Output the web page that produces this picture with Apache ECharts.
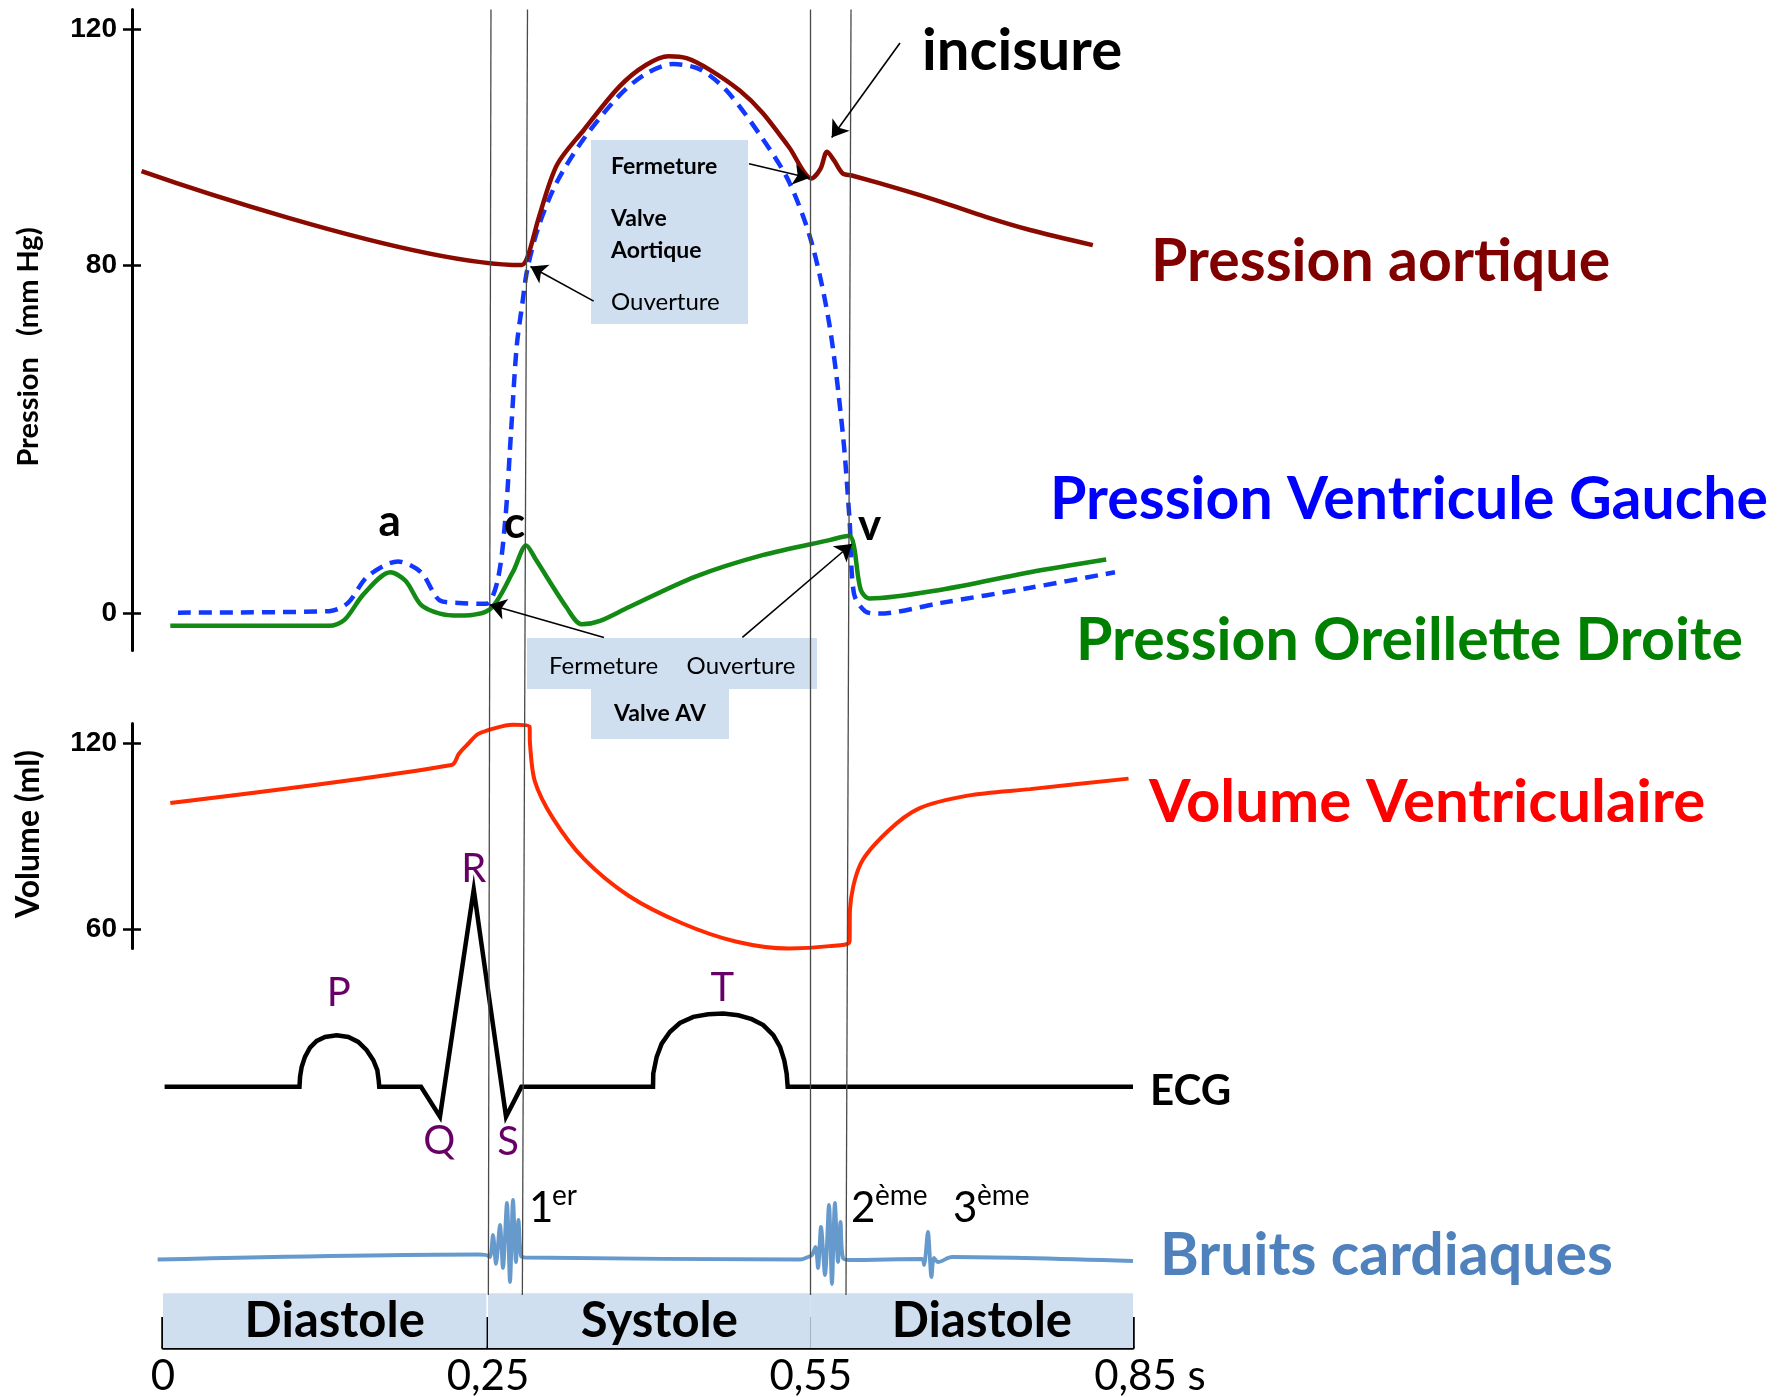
<!DOCTYPE html>
<html>
<head>
<meta charset="utf-8">
<script src="https://cdn.jsdelivr.net/npm/echarts@6/dist/echarts.min.js"></script>
<style>
  html, body { margin: 0; padding: 0; background: #fff }
  #chart { width: 1785px; height: 1397px }
</style>
</head>
<body>
<div id="chart"></div>
<script>
// time values are on the drawn time scale (0 .. 0.85 s, three equal phase widths)
const xTickValues = [0, 0.2848, 0.5676, 0.85]
const xTickLabels = ['0', '0,25', '0,55', '0,85 s']

const pressureTicks = [0, 71.55, 120]
const pressureTickLabels = ['0', '80', '120']
const volumeTicks = [60, 120]

// [t, mmHg on the drawn scale]
const aorticPressure = [
  [-0.0188, 90.9], [0.3142, 71.6], [0.3198, 73.5], [0.3295, 81.5], [0.3453, 92.2], [0.3689, 99.4],
  [0.4001, 108.3], [0.4232, 112.7], [0.4431, 114.5], [0.4588, 114.1], [0.4785, 111.8], [0.5056, 107.4],
  [0.5253, 102.9], [0.5486, 95.8], [0.5684, 89.4], [0.5762, 91.4], [0.5819, 94.9], [0.5880, 93.1],
  [0.5957, 90.4], [0.6036, 90.0], [0.6502, 86.9], [0.6818, 84.6], [0.7209, 81.5], [0.7598, 78.8], [0.8148, 75.7]
]
const lvPressure = [
  [0.0131, 0.2], [0.1455, 0.5], [0.1621, 2.2], [0.1791, 7.6], [0.2059, 10.7], [0.2261, 8.5], [0.2427, 2.7],
  [0.2594, 2.2], [0.2830, 2.0], [0.2931, 6.7], [0.2999, 19.2], [0.3049, 37.0], [0.3099, 54.8], [0.3149, 63.7],
  [0.3193, 70.8], [0.3295, 79.8], [0.3453, 88.7], [0.3689, 97.6], [0.4001, 106.5], [0.4232, 110.9],
  [0.4469, 112.9], [0.4706, 111.8], [0.4940, 107.4], [0.5253, 97.6], [0.5486, 88.7], [0.5684, 76.2],
  [0.5840, 59.3], [0.5957, 37.0], [0.6016, 19.3], [0.6055, 4.1], [0.6152, 0.5], [0.6270, 0],
  [0.6818, 2.2], [0.7598, 5.3], [0.8342, 8.5]
]
const atrialPressure = [
  [0.0064, -2.5], [0.1455, -2.5], [0.1590, -1.3], [0.1758, 4.0], [0.1993, 8.5], [0.2127, 6.7], [0.2261, 1.8],
  [0.2427, 0], [0.2596, -0.4], [0.2865, 0.9], [0.3065, 8.5], [0.3183, 14.0], [0.3267, 11.1], [0.3535, 1.3],
  [0.3669, -2.2], [0.3829, -1.5], [0.4080, 1.3], [0.4666, 7.6], [0.5253, 12.0], [0.5840, 15.1],
  [0.6016, 16.0], [0.6055, 13.8], [0.6114, 4.9], [0.6192, 3.1], [0.6818, 4.9], [0.7598, 8.5], [0.8265, 11.1]
]
// [t, ml]
const ventricularVolume = [
  [0.0064, 100.7], [0.2529, 113.0], [0.2594, 116.7], [0.2672, 119.8], [0.2760, 123.0], [0.2906, 124.9],
  [0.3063, 126.0], [0.3212, 125.4], [0.3216, 119.8], [0.3258, 107.8], [0.3415, 95.9], [0.3689, 82.6],
  [0.4080, 70.7], [0.4548, 61.8], [0.5018, 55.9], [0.5486, 53.6], [0.5840, 54.4], [0.6016, 55.9],
  [0.6020, 66.3], [0.6114, 81.1], [0.6349, 91.5], [0.6622, 98.9], [0.7052, 103.1], [0.7598, 105.2], [0.8461, 108.6]
]
// [t, mV-ish]
const ecg = [
  [0.0014, 0], [0.1196, 0], [0.1201, 0.051], [0.1215, 0.101], [0.1244, 0.152], [0.1288, 0.199],
  [0.1347, 0.233], [0.1420, 0.253], [0.1522, 0.262], [0.1624, 0.253], [0.1711, 0.228], [0.1785, 0.186],
  [0.1843, 0.135], [0.1878, 0.085], [0.1890, 0.034], [0.1895, 0], [0.2261, 0], [0.2427, -0.151],
  [0.2723, 1.0], [0.3006, -0.151], [0.3140, 0], [0.4294, 0], [0.4296, 0.067], [0.4326, 0.152],
  [0.4370, 0.219], [0.4443, 0.279], [0.4530, 0.324], [0.4647, 0.355], [0.4778, 0.368], [0.4910, 0.372],
  [0.5041, 0.363], [0.5159, 0.343], [0.5260, 0.313], [0.5348, 0.262], [0.5407, 0.203], [0.5444, 0.135],
  [0.5465, 0.067], [0.5474, 0], [0.85, 0]
]
// [t, amplitude]
const heartSounds = [
  [-0.0047, 0.01], [0.2760, 0.11], [0.2830, 0.10], [0.2865, 0.06], [0.2892, 0.50], [0.2918, -0.08],
  [0.2953, 0.70], [0.2979, -0.16], [0.3014, 1.14], [0.3041, -0.44], [0.3067, 1.20], [0.3093, -0.04],
  [0.3115, 0.80], [0.3137, 0.08], [0.3172, 0.05], [0.5585, 0.01], [0.5652, 0.06], [0.5687, 0.10],
  [0.5718, 0.26], [0.5740, -0.16], [0.5766, 0.66], [0.5801, -0.30], [0.5836, 1.10], [0.5862, -0.48],
  [0.5888, 1.14], [0.5915, -0.04], [0.5937, 0.76], [0.5959, 0.04], [0.6020, 0], [0.6651, 0.02],
  [0.6669, -0.10], [0.6703, 0.56], [0.6734, -0.34], [0.6756, 0.04], [0.6791, -0.04], [0.6914, 0.06], [0.85, -0.02]
]

const phaseNames = ['Diastole', 'Systole', 'Diastole']
const phaseBounds = [[0, 0.2834], [0.2848, 0.5676], [0.5676, 0.85]]
// valve events: top and bottom of each thin vertical line
const eventLinesTop = [0.2874, 0.3194, 0.5676, 0.6029]
const eventLinesBottom = [0.2851, 0.3149, 0.5676, 0.5985]

// arrows [[t, p] from, [t, p] to] on the pressure scale
const arrows = [
  [[0.6458, 117.2], [0.5860, 97.8]],
  [[0.5135, 92.4], [0.5664, 89.5]],
  [[0.3774, 64.2], [0.3220, 71.3]],
  [[0.3864, -4.9], [0.2865, 1.8]],
  [[0.5077, -4.9], [0.6036, 14.3]]
]

// layout
const PX0 = 163, PX_PER_T = 970 / 0.85
const LEFT = 132, WIDTH = 1008
const XMIN = (LEFT - PX0) / PX_PER_T
const XMAX = XMIN + WIDTH / PX_PER_T
const FONT = 'Lato, "Open Sans", sans-serif'

const chart = echarts.init(document.getElementById('chart'))

function hiddenX(grid) {
  return { type: 'value', gridIndex: grid, min: XMIN, max: XMAX, show: false }
}
function txt(x, y, text, size, color, weight, align, extra) {
  return Object.assign({
    type: 'text', x, y, z: 100,
    style: {
      text, fill: color || '#000', fontSize: size, fontWeight: weight || 'normal',
      fontFamily: FONT, align: align || 'left', verticalAlign: 'middle'
    }
  }, extra || {})
}
const boxFill = '#cfdff0'
const tickLabelStyle = { fontFamily: '"Liberation Sans", Arial, sans-serif', fontWeight: 'bold', fontSize: 28, color: '#000', margin: 15 }
const tickStyle = { color: '#000', width: 2.5 }

chart.setOption({
  animation: false,
  backgroundColor: '#fff',
  grid: [
    { left: LEFT, top: 9.5, width: WIDTH, height: 641.1 },
    { left: LEFT, top: 723.6, width: WIDTH, height: 225 },
    { left: LEFT, top: 860, width: WIDTH, height: 290 },
    { left: LEFT, top: 1185, width: WIDTH, height: 150 },
    { left: PX0, top: 1293.3, width: 970, height: 56.7 },
    { left: LEFT, top: 9.5, width: WIDTH, height: 1285.5 }
  ],
  xAxis: [
    hiddenX(0), hiddenX(1), hiddenX(2), hiddenX(3),
    {
      type: 'value', gridIndex: 4, min: 0, max: 0.85, position: 'bottom',
      axisLine: { onZero: false, lineStyle: { color: '#000', width: 3.5 } },
      axisTick: { inside: true, length: 31, customValues: xTickValues, lineStyle: { color: '#000', width: 3.5 } },
      axisLabel: {
        customValues: xTickValues, fontFamily: FONT, fontSize: 42, color: '#000', margin: 7,
        formatter: v => {
          const s = xTickLabels[xTickValues.indexOf(v)]
          return v === 0.85 ? '{e|' + s + '}' : s
        },
        rich: { e: { fontFamily: FONT, fontSize: 42, color: '#000', padding: [0, 0, 0, 34] } }
      },
      splitLine: { show: false }
    },
    hiddenX(5)
  ],
  yAxis: [
    {
      type: 'value', gridIndex: 0, min: -7.6, max: 124.1, position: 'left',
      axisLine: { show: true, onZero: false, lineStyle: { color: '#000', width: 3 } },
      axisTick: { show: true, length: 9, customValues: pressureTicks, lineStyle: tickStyle },
      axisLabel: { customValues: pressureTicks, formatter: v => pressureTickLabels[pressureTicks.indexOf(v)], ...tickLabelStyle },
      splitLine: { show: false }
    },
    {
      type: 'value', gridIndex: 0, min: -7.6, max: 124.1, position: 'left',
      axisLine: { show: false, onZero: false }, axisLabel: { show: false }, splitLine: { show: false },
      axisTick: { show: true, inside: true, length: 9, customValues: pressureTicks, lineStyle: tickStyle }
    },
    {
      type: 'value', gridIndex: 1, min: 53.6, max: 126.4, position: 'left',
      axisLine: { show: true, onZero: false, lineStyle: { color: '#000', width: 3 } },
      axisTick: { show: true, length: 9, customValues: volumeTicks, lineStyle: tickStyle },
      axisLabel: { customValues: volumeTicks, ...tickLabelStyle },
      splitLine: { show: false }
    },
    {
      type: 'value', gridIndex: 1, min: 53.6, max: 126.4, position: 'left',
      axisLine: { show: false, onZero: false }, axisLabel: { show: false }, splitLine: { show: false },
      axisTick: { show: true, inside: true, length: 9, customValues: volumeTicks, lineStyle: tickStyle }
    },
    { type: 'value', gridIndex: 2, min: -0.32, max: 1.15, show: false },
    { type: 'value', gridIndex: 3, min: -1.5, max: 1.5, show: false },
    { type: 'value', gridIndex: 4, min: 0, max: 1, show: false },
    { type: 'value', gridIndex: 5, min: 0, max: 1, show: false }
  ],
  series: [
    {
      name: 'phases', type: 'line', xAxisIndex: 4, yAxisIndex: 6, data: [[0, -1]], showSymbol: false,
      lineStyle: { opacity: 0 }, silent: true,
      markArea: {
        silent: true,
        itemStyle: { color: boxFill, opacity: 1 },
        label: { show: true, position: 'inside', offset: [10, 1], fontFamily: FONT, fontWeight: 'bold', fontSize: 49, color: '#000' },
        data: phaseBounds.map((b, i) => [{ name: phaseNames[i], xAxis: b[0] }, { xAxis: b[1] }])
      }
    },
    {
      name: 'events', type: 'line', xAxisIndex: 5, yAxisIndex: 7, data: [[0, -1]], showSymbol: false,
      lineStyle: { opacity: 0 }, silent: true, z: 1,
      markLine: {
        silent: true, symbol: 'none', label: { show: false },
        lineStyle: { color: '#4a4a4a', width: 1.3, type: 'solid' },
        data: eventLinesTop.map((t, i) => [{ coord: [t, 1] }, { coord: [eventLinesBottom[i], 0] }])
      }
    },
    {
      name: 'Pression aortique', type: 'line', xAxisIndex: 0, yAxisIndex: 0, data: aorticPressure,
      showSymbol: false, smooth: 0.3, clip: false,
      lineStyle: { color: '#8b0a00', width: 4.5 }, z: 4,
      markLine: {
        silent: true, symbol: ['none', 'arrow'], symbolSize: 16, label: { show: false },
        lineStyle: { color: '#000', width: 1.6, type: 'solid' },
        data: arrows.map(a => [
          { coord: a[0], symbol: 'none' },
          { coord: a[1], symbol: 'arrow', symbolSize: 16 }
        ])
      }
    },
    {
      name: 'Pression Ventricule Gauche', type: 'line', xAxisIndex: 0, yAxisIndex: 0, data: lvPressure,
      showSymbol: false, smooth: 0.3, clip: false,
      lineStyle: { color: '#1238ff', width: 4.5, type: [13, 8] }, z: 3
    },
    {
      name: 'Pression Oreillette Droite', type: 'line', xAxisIndex: 0, yAxisIndex: 0, data: atrialPressure,
      showSymbol: false, smooth: 0.3, clip: false,
      lineStyle: { color: '#138a13', width: 4.5 }, z: 3
    },
    {
      name: 'Volume Ventriculaire', type: 'line', xAxisIndex: 1, yAxisIndex: 2, data: ventricularVolume,
      showSymbol: false, smooth: 0.3, clip: false,
      lineStyle: { color: '#ff2a00', width: 4 }
    },
    {
      name: 'ECG', type: 'line', xAxisIndex: 2, yAxisIndex: 4, data: ecg,
      showSymbol: false, clip: false,
      lineStyle: { color: '#000', width: 4.5, join: 'miter' }
    },
    {
      name: 'Bruits cardiaques', type: 'line', xAxisIndex: 3, yAxisIndex: 5, data: heartSounds,
      showSymbol: false, smooth: 0.3, clip: false,
      lineStyle: { color: '#6699cc', width: 3.8 }
    }
  ],
  graphic: [
    txt(29, 347, 'Pression   (mm Hg)', 29, '#000', 'bold', 'center', { rotation: Math.PI / 2 }),
    txt(29, 834, 'Volume (ml)', 32, '#000', 'bold', 'center', { rotation: Math.PI / 2 }),

    txt(922, 51, 'incisure', 58, '#000', 'bold'),
    txt(1151, 262, 'Pression aortique', 59, '#800000', 'bold'),
    txt(1050, 500, 'Pression Ventricule Gauche', 59, '#0000ff', 'bold'),
    txt(1076, 641, 'Pression Oreillette Droite', 59, '#008000', 'bold'),
    txt(1149, 803, 'Volume Ventriculaire', 60, '#ff0000', 'bold'),
    txt(1150, 1091, 'ECG', 42, '#000', 'bold'),
    txt(1160, 1256, 'Bruits cardiaques', 59, '#4f81bd', 'bold'),

    { type: 'rect', z: 0, shape: { x: 591, y: 140, width: 157, height: 184 }, style: { fill: boxFill } },
    txt(611, 167, 'Fermeture', 23, '#000', 'bold'),
    txt(611, 219, 'Valve', 23, '#000', 'bold'),
    txt(611, 251, 'Aortique', 23, '#000', 'bold'),
    txt(611, 302, 'Ouverture', 24, '#000'),

    { type: 'rect', z: 0, shape: { x: 527, y: 638, width: 290, height: 51 }, style: { fill: boxFill } },
    { type: 'rect', z: 0, shape: { x: 591, y: 689, width: 138, height: 50 }, style: { fill: boxFill } },
    txt(603.6, 666, 'Fermeture', 24, '#000', 'normal', 'center'),
    txt(741, 666, 'Ouverture', 24, '#000', 'normal', 'center'),
    txt(660, 714, 'Valve AV', 23, '#000', 'bold', 'center'),

    txt(389.6, 522, 'a', 44, '#000', 'bold', 'center'),
    txt(514.7, 524, 'c', 44, '#000', 'bold', 'center'),
    txt(869.6, 526, 'v', 44, '#000', 'bold', 'center'),

    txt(338.7, 993, 'P', 40, '#660066', 'normal', 'center'),
    txt(439.3, 1141, 'Q', 40, '#660066', 'normal', 'center'),
    txt(473.8, 869, 'R', 40, '#660066', 'normal', 'center'),
    txt(508, 1142, 'S', 40, '#660066', 'normal', 'center'),
    txt(722.3, 988, 'T', 40, '#660066', 'normal', 'center'),

    txt(529, 1208, '1', 42, '#000'),
    txt(552, 1196, 'er', 28, '#000'),
    txt(851, 1208, '2', 42, '#000'),
    txt(875, 1196, 'ème', 28, '#000'),
    txt(953, 1208, '3', 42, '#000'),
    txt(977, 1196, 'ème', 28, '#000')
  ]
})
</script>
</body>
</html>
